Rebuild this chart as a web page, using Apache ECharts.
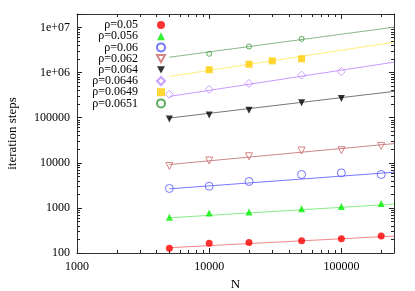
<!DOCTYPE html>
<html><head><meta charset="utf-8">
<script src="https://cdn.jsdelivr.net/npm/echarts@6/dist/echarts.min.js"></script>
<style>html,body{margin:0;padding:0;background:#fff}#c{width:415px;height:291px}</style>
</head><body><div id="c"></div>
<script>
// ---- data ----
const N6 = [5000, 10000, 20000, 50000, 100000, 200000];
const N5 = [5000, 10000, 20000, 50000, 100000];
const N0649 = [10000, 20000, 30000, 50000];
const N0651 = [10000, 20000, 50000];
const rho005 = [127, 165, 170, 188, 207, 238];
const rho0056 = [617, 767, 807, 955, 1080, 1260];
const rho006 = [2700, 3030, 3860, 5510, 5980, 5510];
const rho0062 = [8530, 11240, 14000, 18700, 19000, 23700];
const rho0064 = [93500, 115000, 146000, 216000, 268000];
const rho00646 = [330000, 425000, 577000, 881000, 1060000];
const rho00649 = [1160000, 1540000, 1830000, 2030000];
const rho00651 = [2620000, 3800000, 5620000];
// fitted power-law lines: values at the two ends
const fitN = [5000, 250000];
const fit005 = [131, 238];
const fit0056 = [604, 1213];
const fit006 = [2650, 6190];
const fit0062 = [9160, 26700];
const fit0064 = [98400, 384000];
const fit00646 = [297000, 1710000];
const fit00649 = [824000, 4730000];
const fit00651 = [2200000, 10200000];
const names = ['ρ=0.05','ρ=0.056','ρ=0.06','ρ=0.062','ρ=0.064','ρ=0.0646','ρ=0.0649','ρ=0.0651'];
const xTickValues = [1000, 10000, 100000];
const xTickLabels = ['1000', '10000', '100000'];
const yTickValues = [100, 1000, 10000, 100000, 1000000, 10000000];
const yTickLabels = ['100', '1000', '10000', '100000', '1e+06', '1e+07'];

const XMIN = 1000, XMAX = 250000, YMIN = 100, YMAX = 2e7;
const FONT = '"Liberation Serif","DejaVu Serif",serif';
const AX = '#333';

function minorLog(lo, hi) {
  const out = [];
  for (let d = lo; d < hi; d *= 10) for (let k = 2; k <= 9; k++) { const v = d * k; if (v <= hi) out.push(Math.log10(v)); }
  return out;
}
const xMinor = minorLog(XMIN, XMAX);
const yMinor = minorLog(YMIN, YMAX);

const downTri = 'path://M0,0 L10,0 L5,9 Z';
const styles = [
  {sym:'circle', size:7, item:{color:'#ff0000'}, line:'#f08888'},
  {sym:'triangle', size:7, item:{color:'#00ee00'}, line:'#88ee88'},
  {sym:'circle', size:8, item:{color:'rgba(0,0,0,0)', borderColor:'#5555ff', borderWidth:1}, line:'#7777ff'},
  {sym:downTri, size:7, item:{color:'rgba(0,0,0,0)', borderColor:'#cc6666', borderWidth:1}, line:'#cc8888'},
  {sym:downTri, size:7, item:{color:'#000000'}, line:'#777777'},
  {sym:'diamond', size:8, item:{color:'rgba(0,0,0,0)', borderColor:'#bb88ff', borderWidth:1}, line:'#cc99ff'},
  {sym:'rect', size:7, item:{color:'#ffcc00'}, line:'#ffee77'},
  {sym:'circle', size:5, item:{color:'rgba(0,0,0,0)', borderColor:'#339933', borderWidth:1}, line:'#88bb88'}
];
const pts = [[N6,rho005],[N6,rho0056],[N6,rho006],[N6,rho0062],[N5,rho0064],[N5,rho00646],[N0649,rho00649],[N0651,rho00651]];
const fits = [fit005,fit0056,fit006,fit0062,fit0064,fit00646,fit00649,fit00651];

const series = [];
fits.forEach((f, i) => {
  series.push({type:'line', name:'fit'+i, xAxisIndex:0, yAxisIndex:0, silent:true, showSymbol:false,
    data: fitN.map((n, j) => [n, f[j]]), lineStyle:{color:styles[i].line, width:1}, itemStyle:{color:styles[i].line}, z:1});
});
pts.forEach((p, i) => {
  series.push({type:'scatter', name:names[i], xAxisIndex:0, yAxisIndex:0, symbol:styles[i].sym, symbolSize:styles[i].size,
    itemStyle:styles[i].item, data:p[0].map((n, j) => [n, p[1][j]]), z:3});
});

function logAxis(pos, min, max, values, labels, showLabel, name) {
  const a = {type:'log', position:pos, min:min, max:max, interval:1, logBase:10,
    axisLine:{show:true, lineStyle:{color:AX, width:1}},
    axisTick:{show:true, inside:true, length:5, lineStyle:{color:'#222'}},
    splitLine:{show:false}, minorTick:{show:false},
    axisLabel:{show:showLabel, color:'#000', fontFamily:FONT, fontSize:12,
      formatter: v => { const k = values.findIndex(t => Math.abs(t - v) / t < 1e-6); return k >= 0 ? labels[k] : ''; }}
  };
  if (name) Object.assign(a, name);
  return a;
}
function minorAxis(pos, min, max, vals) {
  return {type:'value', position:pos, min:min, max:max,
    axisLine:{show:false}, splitLine:{show:false}, axisLabel:{show:false},
    axisTick:{show:true, inside:true, length:3, customValues:vals, lineStyle:{color:'#222'}}};
}

const option = {
  animation:false,
  backgroundColor:'#fff',
  grid:{left:77, right:21, top:14, bottom:38, containLabel:false, outerBoundsMode:'none'},
  legend:{
    orient:'vertical', align:'right', right:249, top:19, padding:0,
    itemWidth:8, itemHeight:8, itemGap:-0.8,
    textStyle:{fontFamily:FONT, fontSize:12, color:'#000', lineHeight:10.5, padding:[0,14,0,0]},
    data: names.map((n, i) => ({name:n}))
  },
  xAxis:[
    logAxis('bottom', XMIN, XMAX, xTickValues, xTickLabels, true,
      {name:'N', nameLocation:'middle', nameGap:23, nameTextStyle:{fontFamily:FONT, fontSize:13, color:'#000'}}),
    logAxis('top', XMIN, XMAX, xTickValues, xTickLabels, false),
    minorAxis('bottom', Math.log10(XMIN), Math.log10(XMAX), xMinor),
    minorAxis('top', Math.log10(XMIN), Math.log10(XMAX), xMinor)
  ],
  yAxis:[
    logAxis('left', YMIN, YMAX, yTickValues, yTickLabels, true,
      {name:'iteration steps', nameLocation:'middle', nameGap:58, nameTextStyle:{fontFamily:FONT, fontSize:13, color:'#000'}}),
    logAxis('right', YMIN, YMAX, yTickValues, yTickLabels, false),
    minorAxis('left', Math.log10(YMIN), Math.log10(YMAX), yMinor),
    minorAxis('right', Math.log10(YMIN), Math.log10(YMAX), yMinor)
  ],
  series: series
};
option.xAxis[0].axisLabel.margin = 8;
option.yAxis[0].axisLabel.margin = 7;
const chart = echarts.init(document.getElementById('c'), null, {renderer:'canvas'});
chart.setOption(option);
</script></body></html>
